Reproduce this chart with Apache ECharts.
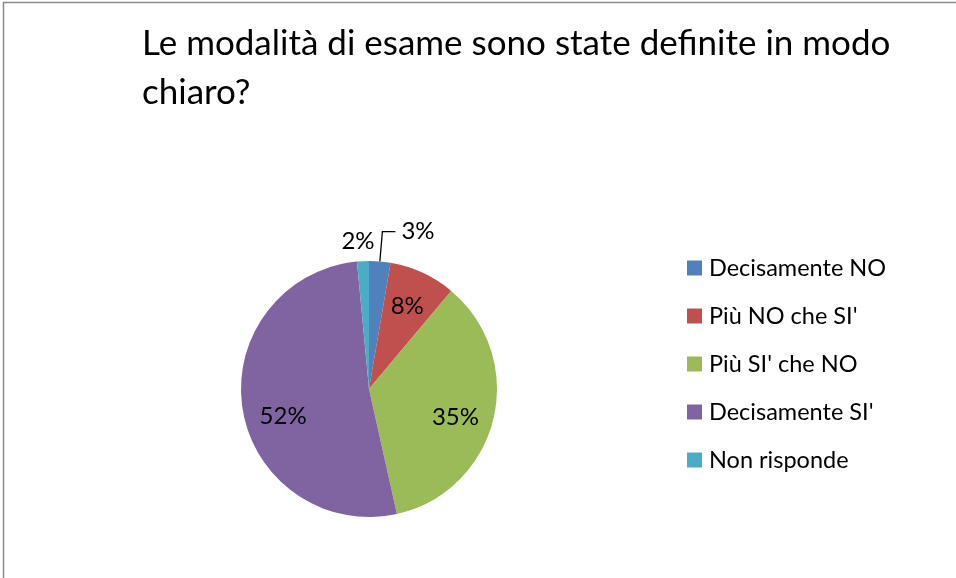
<!DOCTYPE html>
<html>
<head>
<meta charset="utf-8">
<script src="https://cdn.jsdelivr.net/npm/echarts@6/dist/echarts.min.js"></script>
<style>
html,body{margin:0;padding:0;background:#fff;}
#chart{width:956px;height:578px;}
</style>
</head>
<body>
<div id="chart"></div>
<script>
const titleText = "Le modalità di esame sono state definite in modo\nchiaro?";
const categories = ["Decisamente NO", "Più NO che SI'", "Più SI' che NO", "Decisamente SI'", "Non risponde"];
const values = [2.7, 8.4, 35.4, 52.0, 1.5];
const colors = ["#4F81BD", "#C0504D", "#9BBB59", "#8064A2", "#4BACC6"];
const insideLabel = [false, true, true, true, false];

const FONT = "Lato";
const chart = echarts.init(document.getElementById('chart'), null, {renderer: 'canvas'});

const pct = p => Math.round(p.percent) + '%';

const mainData = categories.map((c, i) => ({
  name: c,
  value: values[i],
  itemStyle: {color: colors[i]},
  label: {show: !insideLabel[i]},
  labelLine: {show: i === 0}
}));
const overlayData = categories.map((c, i) => ({
  name: c,
  value: values[i],
  itemStyle: {color: 'rgba(0,0,0,0)'},
  label: {show: insideLabel[i]}
}));

chart.setOption({
  backgroundColor: '#fff',
  animation: false,
  title: {
    text: titleText,
    left: 137,
    top: 14,
    textStyle: {fontFamily: FONT, fontSize: 35, fontWeight: 'normal', color: '#000', lineHeight: 49}
  },
  legend: {
    orient: 'vertical',
    left: 687,
    top: 256,
    padding: 0,
    itemWidth: 15,
    itemHeight: 15,
    itemGap: 24,
    icon: 'rect',
    data: categories,
    textStyle: {fontFamily: FONT, fontSize: 23.5, color: '#000', padding: [0, 0, 0, 2]}
  },
  graphic: [{
    type: 'rect',
    shape: {x: 3.5, y: 2.5, width: 1000, height: 1000},
    style: {fill: 'none', stroke: '#8a8a8a', lineWidth: 1.5},
    silent: true,
    z: 100
  }],
  series: [{
    type: 'pie',
    center: [369, 389],
    radius: [0, 128],
    startAngle: 90,
    clockwise: true,
    avoidLabelOverlap: false,
    legendHoverLink: false,
    label: {
      show: true,
      position: 'outside',
      formatter: pct,
      fontFamily: FONT,
      fontSize: 24,
      color: '#000',
      distanceToLabelLine: 6
    },
    labelLine: {length: 30, length2: 13, lineStyle: {color: '#000', width: 1.3}},
    labelLayout: function (p) {
      if (p.dataIndex === 4) return {dx: 32, dy: 10};
      return {};
    },
    data: mainData
  }, {
    type: 'pie',
    center: [369, 389],
    radius: [48, 128],
    startAngle: 90,
    clockwise: true,
    silent: true,
    legendHoverLink: false,
    label: {
      position: 'inside',
      formatter: pct,
      fontFamily: FONT,
      fontSize: 24,
      color: '#000'
    },
    labelLine: {show: false},
    labelLayout: function (p) {
      if (p.dataIndex === 2) return {dx: -2, dy: 7};
      if (p.dataIndex === 3) return {dx: 4, dy: 13};
      return {};
    },
    data: overlayData,
    z: 3
  }]
});
</script>
</body>
</html>
